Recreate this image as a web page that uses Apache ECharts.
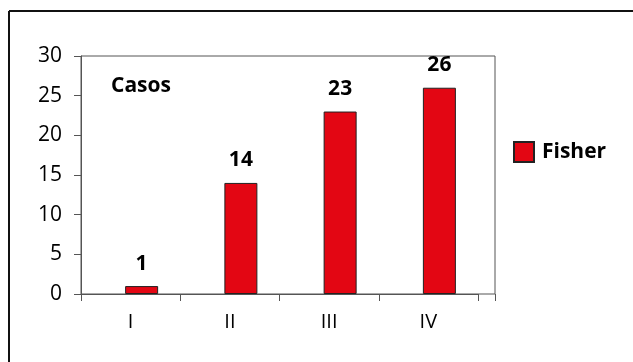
<!DOCTYPE html>
<html>
<head>
<meta charset="utf-8">
<script src="https://cdn.jsdelivr.net/npm/echarts@6/dist/echarts.min.js"></script>
<style>
  html, body { margin: 0; padding: 0; background: #ffffff; }
  #chart { width: 633px; height: 362px; }
</style>
</head>
<body>
<div id="chart"></div>
<script>
// Stages and the number of Fisher cases in each
const categories = ['I', 'II', 'III', 'IV'];
const fisherCases = [1, 14, 23, 26];
const seriesName = 'Fisher';
const yTicks = { min: 0, max: 30, interval: 5 };

const FONT = '"Open Sans", "Noto Sans", sans-serif';
const AXIS_COLOR = '#555555';
const BAR_RED = '#e30613';

const chart = echarts.init(document.getElementById('chart'), null, { renderer: 'canvas' });

chart.setOption({
  backgroundColor: '#ffffff',
  animation: false,
  textStyle: { fontFamily: FONT },
  grid: [
    // axes with tick labels
    { left: 81, top: 56, width: 397, height: 238, containLabel: false },
    // plot frame
    { left: 81, top: 56, width: 414, height: 238, show: true, borderColor: AXIS_COLOR, borderWidth: 1, backgroundColor: 'transparent' },
    // bars
    { left: 92, top: 56, width: 397, height: 238 }
  ],
  xAxis: [
    {
      gridIndex: 0, type: 'category', data: categories,
      axisLine: { show: true, lineStyle: { color: AXIS_COLOR, width: 1 } },
      axisTick: { show: true, length: 7, lineStyle: { color: AXIS_COLOR } },
      axisLabel: { color: '#000', fontSize: 20, fontFamily: FONT, margin: 18 },
      splitLine: { show: false }
    },
    { gridIndex: 1, type: 'category', data: categories, show: false },
    { gridIndex: 2, type: 'category', data: categories, show: false }
  ],
  yAxis: [
    {
      gridIndex: 0, type: 'value', min: yTicks.min, max: yTicks.max, interval: yTicks.interval,
      axisLine: { show: true, lineStyle: { color: AXIS_COLOR, width: 1 } },
      axisTick: { show: true, length: 7, lineStyle: { color: AXIS_COLOR } },
      axisLabel: { color: '#000', fontSize: 21, fontFamily: FONT, margin: 19 },
      splitLine: { show: false }
    },
    { gridIndex: 1, type: 'value', min: yTicks.min, max: yTicks.max, show: false, splitLine: { show: false } },
    { gridIndex: 2, type: 'value', min: yTicks.min, max: yTicks.max, show: false, splitLine: { show: false } }
  ],
  legend: {
    data: [seriesName],
    left: 513, top: 141, padding: 0,
    icon: 'rect', itemWidth: 20, itemHeight: 20, itemGap: 0,
    textStyle: { color: '#000', fontSize: 21, fontWeight: 'bold', fontFamily: FONT, padding: [0, 0, 0, 3] }
  },
  series: [
    {
      name: seriesName, type: 'bar', xAxisIndex: 2, yAxisIndex: 2,
      data: fisherCases, barWidth: 33,
      itemStyle: { color: BAR_RED, borderColor: '#222', borderWidth: 1 },
      label: {
        show: true, position: 'top', distance: 12,
        color: '#000', fontSize: 21, fontWeight: 'bold', fontFamily: FONT
      }
    }
  ],
  graphic: [
    // outer chart border (top and left edges)
    { type: 'line', shape: { x1: 9, y1: 11, x2: 633, y2: 11 }, style: { stroke: '#111', lineWidth: 2 } },
    { type: 'line', shape: { x1: 9, y1: 11, x2: 9, y2: 362 }, style: { stroke: '#111', lineWidth: 2 } },
    // right edge of the plot frame runs past the baseline like a tick
    { type: 'line', shape: { x1: 495.5, y1: 294, x2: 495.5, y2: 301 }, style: { stroke: AXIS_COLOR, lineWidth: 1 } },
    { type: 'text', left: 111, top: 76, style: { text: 'Casos', fill: '#000', font: 'bold 21px ' + FONT } }
  ]
});
</script>
</body>
</html>
